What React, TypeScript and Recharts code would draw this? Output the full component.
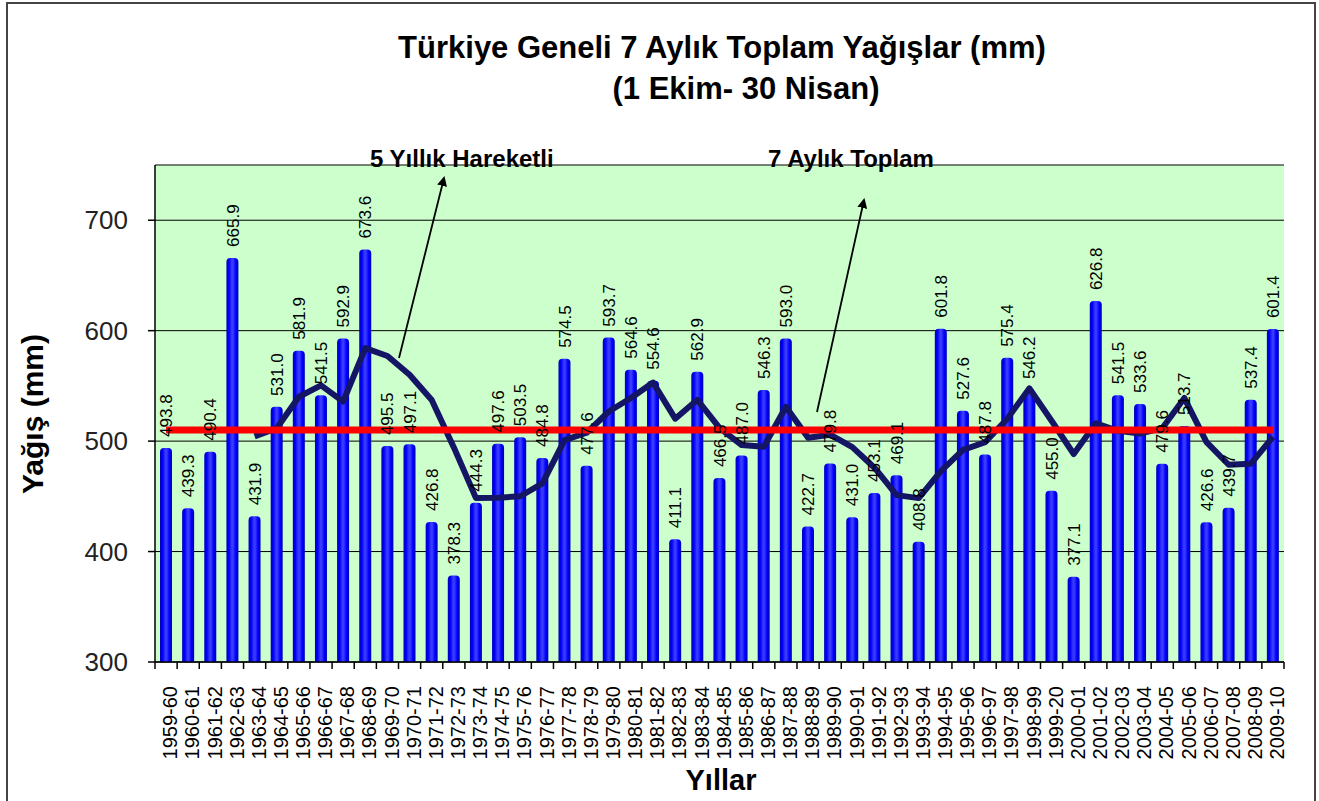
import { ComposedChart, Bar, Line, XAxis, YAxis, CartesianGrid, ReferenceLine, LabelList } from "recharts"

// 7-month (1 Oct - 30 Apr) precipitation totals, Turkey-wide
const years = [
  "1959-60", "1960-61", "1961-62", "1962-63", "1963-64", "1964-65", "1965-66", "1966-67",
  "1967-68", "1968-69", "1969-70", "1970-71", "1971-72", "1972-73", "1973-74", "1974-75",
  "1975-76", "1976-77", "1977-78", "1978-79", "1979-80", "1980-81", "1981-82", "1982-83",
  "1983-84", "1984-85", "1985-86", "1986-87", "1987-88", "1988-89", "1989-90", "1990-91",
  "1991-92", "1992-93", "1993-94", "1994-95", "1995-96", "1996-97", "1997-98", "1998-99",
  "1999-20", "2000-01", "2001-02", "2002-03", "2003-04", "2004-05", "2005-06", "2006-07",
  "2007-08", "2008-09", "2009-10",
]

const totals = [
  493.8, 439.3, 490.4, 665.9, 431.9, 531.0, 581.9, 541.5,
  592.9, 673.6, 495.5, 497.1, 426.8, 378.3, 444.3, 497.6,
  503.5, 484.8, 574.5, 477.6, 593.7, 564.6, 554.6, 411.1,
  562.9, 466.5, 487.0, 546.3, 593.0, 422.7, 479.8, 431.0,
  453.1, 469.1, 408.8, 601.8, 527.6, 487.8, 575.4, 546.2,
  455.0, 377.1, 626.8, 541.5, 533.6, 479.6, 513.7, 426.6,
  439.7, 537.4, 601.4,
]

// 5 yıllık hareketli ortalama (starts at the 5th season)
const movingAvg = [
  null, null, null, null, 504.3, 511.7, 540.2, 550.4,
  535.8, 584.2, 577.1, 560.1, 537.2, 494.3, 448.4, 448.8,
  450.1, 461.7, 500.9, 507.6, 526.8, 539.0, 553.0, 520.3,
  537.4, 511.9, 496.4, 494.8, 531.1, 503.1, 505.8, 494.6,
  475.9, 451.1, 448.4, 472.8, 492.1, 499.0, 520.3, 547.8,
  518.4, 488.3, 516.1, 509.3, 506.8, 511.7, 539.0, 499.0,
  478.6, 479.4, 503.8,
]

const longTermMean = 510
const yTicks = [300, 400, 500, 600, 700]

const chartData = years.map((year, i) => ({ year, total: totals[i], avg: movingAvg[i] }))

const FONT = '"Liberation Sans", Arial, sans-serif'
const W = 1319
const H = 801
const MARGIN = { top: 165, right: 35, bottom: 39, left: 0 }
const Y_AXIS_W = 155
const X_AXIS_H = 100
const PLOT_BOTTOM = H - MARGIN.bottom - X_AXIS_H
const BAND = (W - MARGIN.right - Y_AXIS_W - MARGIN.left) / years.length

const CylinderBar = (props: any) => {
  const { x, y, width, height } = props
  if (!height || height <= 0) return null
  const r = Math.min(4, width / 2)
  const d = `M${x},${y + height} L${x},${y + r} Q${x},${y} ${x + r},${y} L${x + width - r},${y} Q${x + width},${y} ${x + width},${y + r} L${x + width},${y + height} Z`
  return <path d={d} fill="url(#barGrad)" />
}

const ValueLabel = (props: any) => {
  const { x, y, width, value } = props
  if (value == null) return null
  const cx = x + width / 2
  const by = y - 11
  return (
    <text
      x={cx}
      y={by}
      dy="0.36em"
      transform={`rotate(-90, ${cx}, ${by})`}
      textAnchor="start"
      fontSize={17}
      fontFamily={FONT}
      fill="#000"
    >
      {Number(value).toFixed(1)}
    </text>
  )
}

const YearTick = (props: any) => {
  const { x, payload } = props
  const idx = payload?.index ?? props.index
  const last = idx === years.length - 1
  const ty = PLOT_BOTTOM + 24
  const tx = x + 4
  return (
    <g>
      <line x1={x - BAND / 2} x2={x - BAND / 2} y1={PLOT_BOTTOM} y2={PLOT_BOTTOM + 7} stroke="#000" strokeWidth={1.5} />
      {last && (
        <line x1={x + BAND / 2} x2={x + BAND / 2} y1={PLOT_BOTTOM} y2={PLOT_BOTTOM + 7} stroke="#000" strokeWidth={1.5} />
      )}
      <text
        x={tx}
        y={ty}
        dy="0.36em"
        transform={`rotate(-90, ${tx}, ${ty})`}
        textAnchor="end"
        fontSize={20}
        fontFamily={FONT}
        fill="#000"
      >
        {payload.value}
      </text>
    </g>
  )
}

export default function App() {
  return (
    <div style={{ position: "absolute", left: 0, top: 0, width: W, height: H, background: "#fff", fontFamily: FONT }}>
      <ComposedChart width={W} height={H} data={chartData} margin={MARGIN}>
        <defs>
          <linearGradient id="barGrad" x1="0" y1="0" x2="1" y2="0">
            <stop offset="0%" stopColor="#0000b4" />
            <stop offset="22%" stopColor="#0000ff" />
            <stop offset="45%" stopColor="#3a3aff" />
            <stop offset="55%" stopColor="#3a3aff" />
            <stop offset="78%" stopColor="#0000ff" />
            <stop offset="100%" stopColor="#0000b4" />
          </linearGradient>
        </defs>
        <CartesianGrid fill="#ccffcc" vertical={false} stroke="#000" strokeWidth={1} />
        <XAxis
          dataKey="year"
          interval={0}
          height={X_AXIS_H}
          tickLine={false}
          axisLine={{ stroke: "#000", strokeWidth: 1.5 }}
          tick={<YearTick />}
        />
        <YAxis
          width={Y_AXIS_W}
          domain={[300, 750]}
          ticks={yTicks}
          tickSize={7}
          tickMargin={20}
          axisLine={{ stroke: "#000", strokeWidth: 1.5 }}
          tickLine={{ stroke: "#000", strokeWidth: 1.5 }}
          tick={{ fontSize: 26, fill: "#222", fontFamily: FONT }}
          allowDataOverflow
        />
        <Bar dataKey="total" barSize={12} shape={<CylinderBar />} isAnimationActive={false}>
          <LabelList dataKey="total" content={<ValueLabel />} />
        </Bar>
        <Line
          dataKey="avg"
          type="linear"
          stroke="#151566"
          strokeWidth={6}
          strokeLinejoin="round"
          dot={false}
          activeDot={false}
          connectNulls={false}
          isAnimationActive={false}
        />
        <ReferenceLine
          segment={[
            { x: years[0], y: longTermMean },
            { x: years[years.length - 1], y: longTermMean },
          ]}
          stroke="#ff0000"
          strokeWidth={7}
        />
      </ComposedChart>

      <svg width={W} height={H} style={{ position: "absolute", left: 0, top: 0, pointerEvents: "none" }}>
        <defs>
          <marker id="arrowHead" markerWidth="10" markerHeight="10" refX="8" refY="5" orient="auto" markerUnits="userSpaceOnUse">
            <path d="M0,0 L10,5 L0,10 Z" fill="#000" />
          </marker>
        </defs>
        <rect x={7} y={3} width={1308} height={820} fill="none" stroke="#444" strokeWidth={2} />

        <text x={722} y={58} textAnchor="middle" fontSize={31} fontWeight="bold" fontFamily={FONT} fill="#000">
          Türkiye Geneli 7 Aylık Toplam  Yağışlar (mm)
        </text>
        <text x={746} y={99} textAnchor="middle" fontSize={31} fontWeight="bold" fontFamily={FONT} fill="#000">
          (1 Ekim- 30 Nisan)
        </text>

        <text x={370} y={167} fontSize={24} fontWeight="bold" fontFamily={FONT} fill="#000">
          5 Yıllık Hareketli
        </text>
        <text x={768} y={167} fontSize={24} fontWeight="bold" fontFamily={FONT} fill="#000">
          7 Aylık Toplam
        </text>
        <line x1={399} y1={358} x2={444} y2={178} stroke="#000" strokeWidth={1.8} markerEnd="url(#arrowHead)" />
        <line x1={817} y1={412} x2={864} y2={200} stroke="#000" strokeWidth={1.8} markerEnd="url(#arrowHead)" />

        <text
          x={32}
          y={414}
          dy="0.35em"
          transform="rotate(-90, 32, 414)"
          textAnchor="middle"
          fontSize={30}
          fontWeight="bold"
          fontFamily={FONT}
          fill="#000"
        >
          Yağış (mm)
        </text>
        <text x={721} y={790} textAnchor="middle" fontSize={29} fontWeight="bold" fontFamily={FONT} fill="#000">
          Yıllar
        </text>
      </svg>
    </div>
  )
}
